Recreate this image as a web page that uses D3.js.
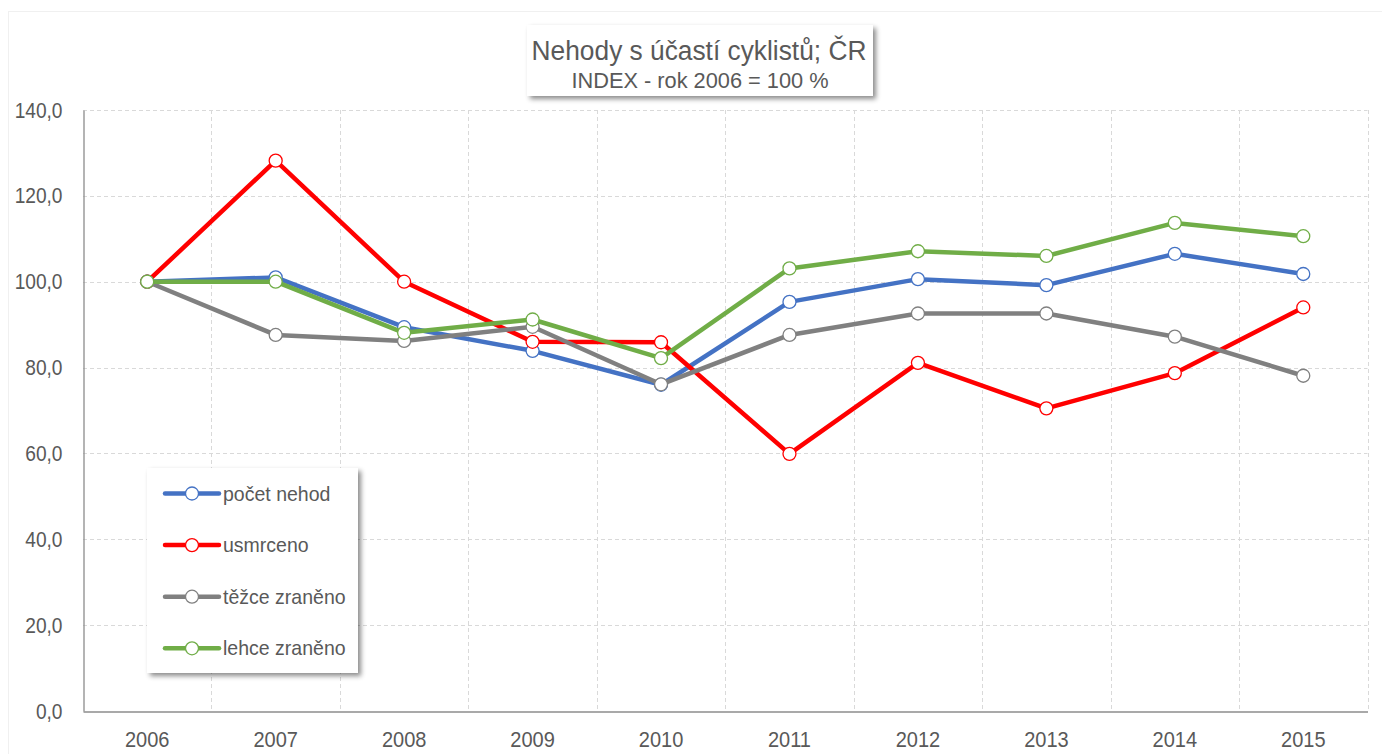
<!DOCTYPE html>
<html lang="cs">
<head>
<meta charset="utf-8">
<title>Nehody s účastí cyklistů; ČR</title>
<script src="https://cdn.jsdelivr.net/npm/d3@7/dist/d3.min.js"></script>
<style>
	html, body { margin: 0; padding: 0; background: #fff; }
	svg { display: block; font-family: "Liberation Sans", Arial, sans-serif; }
</style>
</head>
<body>
<div class="chart"></div>
<script>
// ── Data ─────────────────────────────────────────────────────────────────

const years = ['2006', '2007', '2008', '2009', '2010', '2011', '2012', '2013', '2014', '2015'];

const pocetNehod = [100.0, 101.0, 89.4, 83.9, 76.0, 95.3, 100.6, 99.2, 106.5, 101.8];
const usmrceno = [100.0, 128.2, 100.0, 86.0, 85.9, 59.9, 81.1, 70.5, 78.7, 94.0];
const tezceZraneno = [100.0, 87.6, 86.2, 89.5, 76.1, 87.6, 92.6, 92.6, 87.2, 78.1];
const lehceZraneno = [100.0, 100.0, 88.1, 91.2, 82.2, 103.1, 107.1, 106.0, 113.7, 110.6];

const seriesNames = ['počet nehod', 'usmrceno', 'těžce zraněno', 'lehce zraněno'];
const seriesColors = ['#4472c4', '#ff0000', '#808080', '#70ad47'];

const yTicks = [0, 20, 40, 60, 80, 100, 120, 140];

const titleText = 'Nehody s účastí cyklistů; ČR';
const subtitleText = 'INDEX - rok 2006 = 100 %';

// ── Layout ───────────────────────────────────────────────────────────────

const WIDTH = 1382;
const HEIGHT = 754;
const PLOT = {left: 83, right: 1367.5, top: 110, bottom: 711};
const TEXT_COLOR = '#595959';

const series = [pocetNehod, usmrceno, tezceZraneno, lehceZraneno].map((values, i) => ({
	name: seriesNames[i],
	color: seriesColors[i],
	values
}));

// the original uses a narrow typeface; squeeze the text horizontally around its anchor
function condense(selection, factor, origin)
{
	selection
	.style('transform-box', 'fill-box')
	.style('transform-origin', origin)
	.style('transform', `scaleX(${factor})`);
}

// ── Chart ────────────────────────────────────────────────────────────────

const svg = d3.select('.chart')
.append('svg')
.attr('width', WIDTH)
.attr('height', HEIGHT);

const defs = svg.append('defs');
const shadow = defs.append('filter')
.attr('id', 'shadow')
.attr('x', '-10%').attr('y', '-10%')
.attr('width', '130%').attr('height', '130%');
shadow.append('feDropShadow')
.attr('dx', 3).attr('dy', 3)
.attr('stdDeviation', 2.5)
.attr('flood-color', '#000')
.attr('flood-opacity', 0.45);

// faint outer frame of the chart area
svg.append('rect')
.attr('x', 8.5).attr('y', 11.5)
.attr('width', WIDTH + 10).attr('height', HEIGHT + 10)
.attr('fill', 'none')
.attr('stroke', '#f0f0f0');

const xScale = d3.scaleBand()
.domain(years)
.range([PLOT.left, PLOT.right]);

const yScale = d3.scaleLinear()
.domain([0, 140])
.range([PLOT.bottom, PLOT.top]);

const xCenter = (year) => xScale(year) + xScale.bandwidth() / 2;

// horizontal gridlines
svg.append('g')
.selectAll('line')
.data(yTicks.filter((t) => t > 0))
.join('line')
.attr('x1', PLOT.left).attr('x2', PLOT.right)
.attr('y1', (d) => Math.round(yScale(d)) + 0.5)
.attr('y2', (d) => Math.round(yScale(d)) + 0.5)
.attr('stroke', '#d9d9d9')
.attr('stroke-dasharray', '4,3');

// vertical gridlines at category boundaries
svg.append('g')
.selectAll('line')
.data(years.slice(1).concat(['end']))
.join('line')
.attr('x1', (d) => Math.round(d === 'end' ? PLOT.right : xScale(d)) + 0.5)
.attr('x2', (d) => Math.round(d === 'end' ? PLOT.right : xScale(d)) + 0.5)
.attr('y1', PLOT.top).attr('y2', PLOT.bottom)
.attr('stroke', '#d9d9d9')
.attr('stroke-dasharray', '4,3');

// axes
const yAxis = d3.axisLeft(yScale)
.tickValues(yTicks)
.tickSize(0)
.tickPadding(21)
.tickFormat((d) => d3.format('.1f')(d).replace('.', ','));

svg.append('g')
.attr('transform', `translate(${PLOT.left + 0.5},0)`)
.call(yAxis)
.call((g) => g.select('.domain').attr('stroke', '#8c8c8c').attr('stroke-width', 1.3))
.call((g) => g.selectAll('text')
	.attr('fill', TEXT_COLOR)
	.attr('font-size', 22)
	.attr('font-family', null)
	.call(condense, 0.87, 'right center'));

const xAxis = d3.axisBottom(xScale).tickSize(0).tickPadding(20);

svg.append('g')
.attr('transform', `translate(0,${PLOT.bottom + 0.5})`)
.call(xAxis)
.call((g) => g.select('.domain').attr('stroke', '#8c8c8c').attr('stroke-width', 1.3))
.call((g) => g.selectAll('text')
	.attr('fill', TEXT_COLOR)
	.attr('font-size', 22)
	.attr('font-family', null)
	.call(condense, 0.91, 'center'));

// series lines and markers
const line = d3.line()
.x((d, i) => xCenter(years[i]))
.y((d) => yScale(d));

const seriesGroups = svg.append('g')
.selectAll('g')
.data(series)
.join('g');

seriesGroups.append('path')
.attr('d', (s) => line(s.values))
.attr('fill', 'none')
.attr('stroke', (s) => s.color)
.attr('stroke-width', 4.5)
.attr('stroke-linejoin', 'round');

seriesGroups.selectAll('circle')
.data((s) => s.values.map((v, i) => ({v, year: years[i], color: s.color})))
.join('circle')
.attr('cx', (d) => xCenter(d.year))
.attr('cy', (d) => yScale(d.v))
.attr('r', 6.5)
.attr('fill', '#fff')
.attr('stroke', (d) => d.color)
.attr('stroke-width', 1.3);

// ── Title ────────────────────────────────────────────────────────────────

const titleGroup = svg.append('g');
titleGroup.append('rect')
.attr('x', 527).attr('y', 25)
.attr('width', 346).attr('height', 71)
.attr('fill', '#fff')
.attr('filter', 'url(#shadow)');
titleGroup.append('text')
.attr('x', 699).attr('y', 60)
.attr('text-anchor', 'middle')
.attr('font-size', 28)
.attr('fill', TEXT_COLOR)
.text(titleText)
.call(condense, 0.94, 'center');
titleGroup.append('text')
.attr('x', 700).attr('y', 88)
.attr('text-anchor', 'middle')
.attr('font-size', 22)
.attr('fill', TEXT_COLOR)
.text(subtitleText)
.call(condense, 0.99, 'center');

// ── Legend ───────────────────────────────────────────────────────────────

const legend = svg.append('g');
legend.append('rect')
.attr('x', 147).attr('y', 468)
.attr('width', 211).attr('height', 205)
.attr('fill', '#fff')
.attr('filter', 'url(#shadow)');

const legendItems = legend.selectAll('g.item')
.data(series)
.join('g')
.attr('class', 'item')
.attr('transform', (s, i) => `translate(0,${493.5 + i * 51.6})`);

legendItems.append('line')
.attr('x1', 165).attr('x2', 219)
.attr('stroke', (s) => s.color)
.attr('stroke-width', 4.5)
.attr('stroke-linecap', 'round');

legendItems.append('circle')
.attr('cx', 192).attr('r', 6.5)
.attr('fill', '#fff')
.attr('stroke', (s) => s.color)
.attr('stroke-width', 1.3);

legendItems.append('text')
.attr('x', 223).attr('y', 7)
.attr('font-size', 21)
.attr('fill', TEXT_COLOR)
.text((s) => s.name)
.call(condense, 0.93, 'left center');
</script>
</body>
</html>
